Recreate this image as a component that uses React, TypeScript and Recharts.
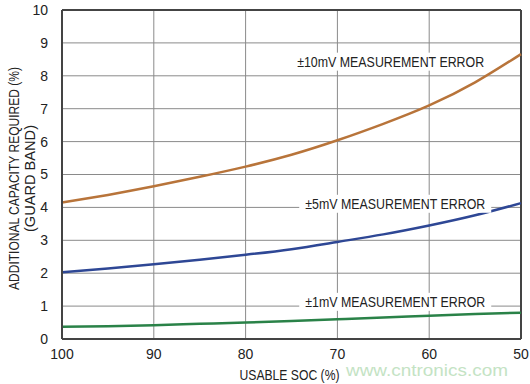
import React from "react";
import {
  LineChart,
  Line,
  XAxis,
  YAxis,
  CartesianGrid,
  ReferenceLine,
  ReferenceDot,
} from "recharts";

const soc = [100, 95, 90, 85, 80, 75, 70, 65, 60, 55, 50];
const err10mV = [4.15, 4.38, 4.64, 4.93, 5.24, 5.6, 6.04, 6.54, 7.1, 7.8, 8.66];
const err5mV = [2.03, 2.14, 2.27, 2.41, 2.56, 2.73, 2.95, 3.18, 3.45, 3.76, 4.13];
const err1mV = [0.37, 0.39, 0.42, 0.46, 0.5, 0.55, 0.6, 0.65, 0.71, 0.76, 0.8];

const xTicks = [100, 90, 80, 70, 60, 50];
const yTicks = [0, 1, 2, 3, 4, 5, 6, 7, 8, 9, 10];

const labels = [
  { text: "±10mV MEASUREMENT ERROR", x: 64.2, y: 8.43, len: 187 },
  { text: "±5mV MEASUREMENT ERROR", x: 63.7, y: 4.11, len: 180 },
  { text: "±1mV MEASUREMENT ERROR", x: 63.7, y: 1.13, len: 180 },
];

const data = soc.map((s, i) => ({
  soc: s,
  e10: err10mV[i],
  e5: err5mV[i],
  e1: err1mV[i],
}));

const FONT = "'Liberation Sans', Arial, sans-serif";
const TXT = "#222";

const makeShape = (text: string, len: number) => (props: any) => {
  const { cx, cy } = props;
  const w = len + 12;
  return (
    <g>
      <rect x={cx - w / 2} y={cy - 9} width={w} height={18} fill="#fff" />
      <text
        x={cx}
        y={cy}
        textAnchor="middle"
        dominantBaseline="central"
        fontFamily={FONT}
        fontSize={15.5}
        fill={TXT}
        textLength={len}
        lengthAdjust="spacingAndGlyphs"
      >
        {text}
      </text>
    </g>
  );
};

const YLabel = (props: any) => {
  const { viewBox } = props;
  const cy = viewBox.y + viewBox.height / 2 + 4;
  return (
    <g fontFamily={FONT} fontSize={14.5} fill={TXT}>
      <text
        x={14}
        y={cy}
        textAnchor="middle"
        dominantBaseline="central"
        transform={`rotate(-90 14 ${cy})`}
        textLength={223}
        lengthAdjust="spacingAndGlyphs"
      >
        ADDITIONAL CAPACITY REQUIRED (%)
      </text>
      <text
        x={30}
        y={cy}
        textAnchor="middle"
        dominantBaseline="central"
        transform={`rotate(-90 30 ${cy})`}
        textLength={107}
        lengthAdjust="spacingAndGlyphs"
      >
        (GUARD BAND)
      </text>
    </g>
  );
};

const XLabel = (props: any) => {
  const { viewBox } = props;
  const cx = viewBox.x + viewBox.width / 2 - 2;
  return (
    <text
      x={cx}
      y={375}
      textAnchor="middle"
      dominantBaseline="central"
      fontFamily={FONT}
      fontSize={14}
      fill={TXT}
      textLength={100}
      lengthAdjust="spacingAndGlyphs"
    >
      USABLE SOC (%)
    </text>
  );
};

export default function App() {
  return (
    <div style={{ position: "absolute", left: 0, top: 0, width: 530, height: 384, background: "#fff" }}>
      <LineChart
        width={530}
        height={384}
        data={data}
        margin={{ top: 10, right: 9, bottom: 0, left: 0 }}
      >
        <CartesianGrid stroke="#8a8a8a" strokeWidth={1} />
        <XAxis
          dataKey="soc"
          type="number"
          domain={[50, 100]}
          reversed
          ticks={xTicks}
          height={45}
          tickLine={false}
          axisLine={{ stroke: "#444", strokeWidth: 2 }}
          tick={{ fontFamily: FONT, fontSize: 14, fill: TXT }}
          tickMargin={4}
          label={<XLabel />}
        />
        <YAxis
          type="number"
          domain={[0, 10]}
          ticks={yTicks}
          width={62}
          tickLine={false}
          axisLine={{ stroke: "#444", strokeWidth: 2 }}
          tick={{ fontFamily: FONT, fontSize: 14, fill: TXT }}
          tickMargin={8}
          interval={0}
          label={<YLabel />}
        />
        <ReferenceLine y={10} stroke="#444" strokeWidth={2} />
        <ReferenceLine x={50} stroke="#444" strokeWidth={2} />
        {labels.map((l) => (
          <ReferenceDot key={l.text} x={l.x} y={l.y} r={0} shape={makeShape(l.text, l.len)} />
        ))}
        <Line type="natural" dataKey="e10" stroke="#b8743a" strokeWidth={2.5} dot={false} isAnimationActive={false} />
        <Line type="natural" dataKey="e5" stroke="#2e4795" strokeWidth={2.5} dot={false} isAnimationActive={false} />
        <Line type="natural" dataKey="e1" stroke="#2a8248" strokeWidth={2.5} dot={false} isAnimationActive={false} />
      </LineChart>
      <svg
        width={170}
        height={22}
        style={{ position: "absolute", left: 345, top: 360 }}
      >
        <text
          x={1}
          y={16}
          fontFamily={FONT}
          fontSize={17}
          fill="#c4e3c4"
          textLength={162}
          lengthAdjust="spacingAndGlyphs"
        >
          www.cntronics.com
        </text>
      </svg>
    </div>
  );
}
